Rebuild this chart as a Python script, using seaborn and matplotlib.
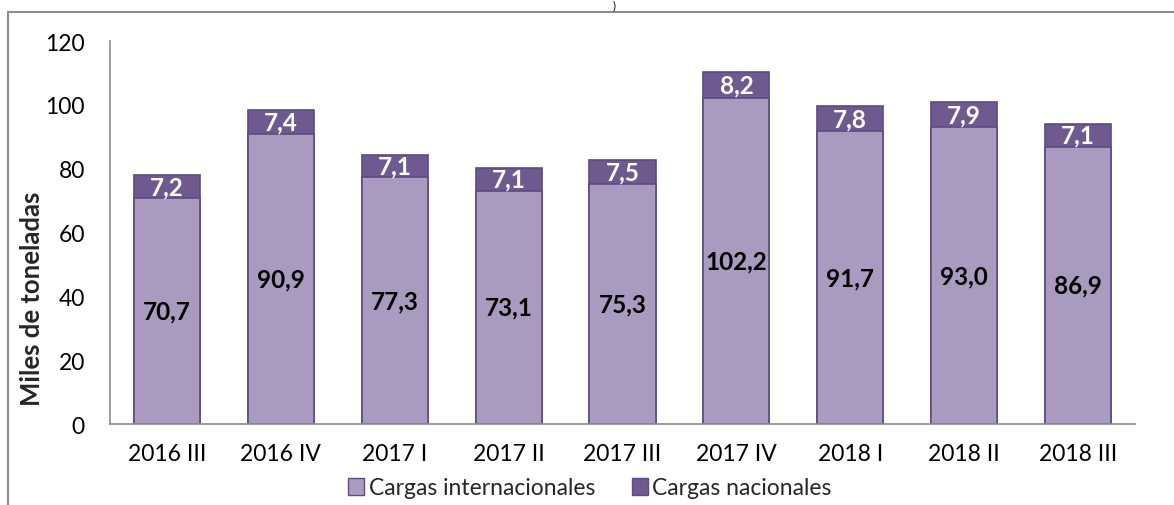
import seaborn as sns
import matplotlib.pyplot as plt
import matplotlib.patches as mpatches
import pandas as pd
import numpy as np

periodos = ['2016 III', '2016 IV', '2017 I', '2017 II', '2017 III',
            '2017 IV', '2018 I', '2018 II', '2018 III']
internacionales = [70.7, 90.9, 77.3, 73.1, 75.3, 102.2, 91.7, 93.0, 86.9]
nacionales = [7.2, 7.4, 7.1, 7.1, 7.5, 8.2, 7.8, 7.9, 7.1]

c_int = '#A99BBF'
c_nac = '#6F5A8F'
c_edge = '#5E4A84'

sns.set_style('white')
plt.rcParams['font.family'] = ['Lato', 'DejaVu Sans']

df = pd.DataFrame({'periodo': periodos,
                   'internacionales': internacionales,
                   'nacionales': nacionales})
df['total'] = df['internacionales'] + df['nacionales']

fig = plt.figure(figsize=(11.74, 5.06), dpi=100)
ax = fig.add_axes([110/1174, 1-425/506, (1135-110)/1174, (425-42)/506])

# total first (dark), then international on top of it (light)
sns.barplot(data=df, x='periodo', y='total', color=c_nac, width=0.58,
            edgecolor=c_edge, linewidth=1.2, saturation=1, ax=ax)
sns.barplot(data=df, x='periodo', y='internacionales', color=c_int, width=0.58,
            edgecolor=c_edge, linewidth=1.2, saturation=1, ax=ax)

for i, (a, b) in enumerate(zip(internacionales, nacionales)):
    ax.text(i, a/2, f'{a:.1f}'.replace('.', ','), ha='center', va='center',
            fontsize=17.5, fontweight='bold', color='black')
    ax.text(i, a + b/2, f'{b:.1f}'.replace('.', ','), ha='center', va='center',
            fontsize=17.5, fontweight='bold', color='white')

ax.set_ylim(0, 120)
ax.set_xlim(-0.5, 8.5)
ax.set_yticks(range(0, 121, 20))
ax.tick_params(axis='both', labelsize=16.5, length=0, colors='black')
ax.tick_params(axis='y', pad=18)
ax.tick_params(axis='x', pad=14)
ax.set_xlabel('')
ax.set_ylabel('Miles de toneladas', fontsize=18.5, fontweight='bold')
ax.yaxis.set_label_coords(-0.064, 0.33)
for s in ['top', 'right']:
    ax.spines[s].set_visible(False)
for s in ['left', 'bottom']:
    ax.spines[s].set_color('#8C8C8C')
    ax.spines[s].set_linewidth(1.2)

handles = [mpatches.Patch(facecolor=c_int, edgecolor=c_edge, label='Cargas internacionales'),
           mpatches.Patch(facecolor=c_nac, edgecolor=c_edge, label='Cargas nacionales')]
fig.legend(handles=handles, loc='center', bbox_to_anchor=(590/1174, 1-489/506),
           ncol=2, frameon=False, fontsize=16.5, handlelength=0.7, handleheight=0.7,
           handletextpad=0.2, columnspacing=1.6, borderpad=0)

# outer chart frame
fig.patches.append(mpatches.Rectangle((8/1174, -0.05), 1.2, 0.05 + 1-13/506,
                                      transform=fig.transFigure, fill=False,
                                      edgecolor='#8C8C8C', linewidth=1.5))
fig.text(614/1174, 1.0, ')', ha='center', va='top', fontsize=8, color='black')

fig.savefig('out.png', dpi=100)
